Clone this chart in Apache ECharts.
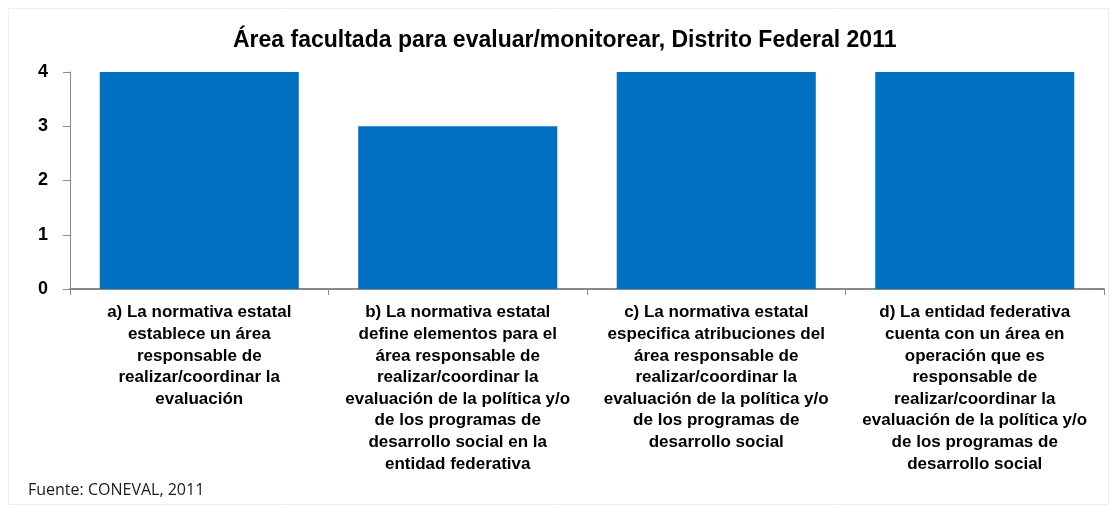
<!DOCTYPE html>
<html>
<head>
<meta charset="utf-8">
<script src="https://cdn.jsdelivr.net/npm/echarts@6/dist/echarts.min.js"></script>
<style>
html, body { margin: 0; padding: 0; background: #fff; }
#mapDiv { width: 1113px; height: 512px; }
</style>
</head>
<body>
<div id="mapDiv"></div>
<script>
// datos
var categorias = [
    'a) La normativa estatal\nestablece un área\nresponsable de\nrealizar/coordinar la\nevaluación',
    'b) La normativa estatal\ndefine elementos para el\nárea responsable de\nrealizar/coordinar la\nevaluación de la política y/o\nde los programas de\ndesarrollo social en la\nentidad federativa',
    'c) La normativa estatal\nespecifica atribuciones del\nárea responsable de\nrealizar/coordinar la\nevaluación de la política y/o\nde los programas de\ndesarrollo social',
    'd) La entidad federativa\ncuenta con un área en\noperación que es\nresponsable de\nrealizar/coordinar la\nevaluación de la política y/o\nde los programas de\ndesarrollo social'
];
var valores = [4, 3, 4, 4];
var ejeY = [0, 1, 2, 3, 4];

var dom = document.getElementById("mapDiv");
var myChart = echarts.init(dom);

var option = {
    backgroundColor: '#fff',
    title: {
        text: 'Área facultada para evaluar/monitorear, Distrito Federal 2011',
        left: 228,
        top: 24,
        textStyle: {
            fontFamily: 'Arial',
            fontSize: 23,
            fontWeight: 'bold',
            color: '#000'
        }
    },
    graphic: [
        {
            type: 'rect',
            shape: { x: 8.5, y: 8.5, width: 1100, height: 496 },
            style: { fill: 'none', stroke: '#eeeeee', lineWidth: 1 }
        },
        {
            type: 'text',
            left: 28,
            top: 482,
            style: {
                text: 'Fuente: CONEVAL, 2011',
                font: '16px "Open Sans"',
                fill: '#1a1a1a'
            }
        }
    ],
    grid: {
        left: 70,
        right: 9,
        top: 72,
        bottom: 223
    },
    xAxis: {
        type: 'category',
        data: categorias,
        axisLine: { lineStyle: { color: '#898989', width: 2 } },
        axisTick: { show: true, length: 6, lineStyle: { color: '#898989' } },
        axisLabel: {
            interval: 0,
            margin: 13,
            color: '#000',
            fontFamily: 'Arial',
            fontSize: 17,
            fontWeight: 'bold',
            lineHeight: 21.6,
            align: 'center'
        }
    },
    yAxis: {
        type: 'value',
        min: ejeY[0],
        max: ejeY[ejeY.length - 1],
        interval: 1,
        splitLine: { show: false },
        axisLine: { show: true, lineStyle: { color: '#898989' } },
        axisTick: { show: true, length: 7, lineStyle: { color: '#898989' } },
        axisLabel: {
            margin: 22,
            color: '#000',
            fontFamily: 'Arial',
            fontSize: 18,
            fontWeight: 'bold'
        }
    },
    series: [
        {
            type: 'bar',
            data: valores,
            barCategoryGap: '23%',
            itemStyle: { color: '#0070C0' },
            animation: false
        }
    ]
};
myChart.setOption(option);
</script>
</body>
</html>
